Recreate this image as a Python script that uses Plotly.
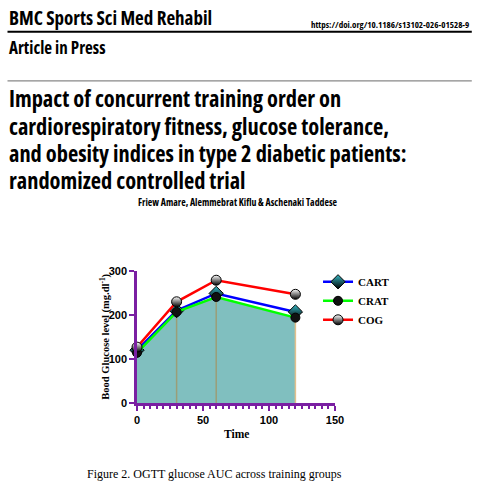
import plotly.graph_objects as go

# ---- data ----
time_min = [0, 30, 60, 120]
cart = [120, 210, 249, 207]
crat = [114, 207, 241, 194]
cog = [127, 230, 279, 247]
series_names = ["CART", "CRAT", "COG"]
x_ticks = [0, 50, 100, 150]
y_ticks = [0, 100, 200, 300]

# ---- geometry (pixels) ----
WIDTH, HEIGHT = 494, 500
L, R, T, B = 136.7, 335.0, 270.7, 402.7
PW, PH = R - L, B - T


def px(x):
    return (x - L) / PW


def py(y):
    return (B - y) / PH


PURPLE = "#7A1FA2"
COND = "Open Sans, Noto Sans, sans-serif"
SERIF = "Liberation Serif, Times New Roman, serif"

fig = go.Figure()

# area under CRAT curve
fig.add_trace(go.Scatter(x=time_min, y=crat, mode="lines", line=dict(width=0),
                         fill="tozeroy", fillcolor="#80BFBF", showlegend=False,
                         hoverinfo="skip"))
# drop lines
drop_x, drop_y = [], []
for t, v in zip(time_min[1:3], crat[1:3]):
    drop_x += [t, t, None]
    drop_y += [0, v, None]
fig.add_trace(go.Scatter(x=drop_x, y=drop_y, mode="lines",
                         line=dict(color="#9A9E78", width=1.5), showlegend=False,
                         hoverinfo="skip"))
fig.add_trace(go.Scatter(x=[time_min[-1], time_min[-1]], y=[0, crat[-1]], mode="lines",
                         line=dict(color="#E2C08E", width=1.5), showlegend=False,
                         hoverinfo="skip"))

fig.add_trace(go.Scatter(
    x=time_min, y=cart, name=series_names[0], mode="lines+markers",
    line=dict(color="#0000FF", width=2.5),
    marker=dict(symbol="diamond", size=11, color="#35B8C4",
                gradient=dict(type="vertical", color="#000000"),
                line=dict(color="#000000", width=1)),
    cliponaxis=False))
fig.add_trace(go.Scatter(
    x=time_min, y=crat, name=series_names[1], mode="lines+markers",
    line=dict(color="#00FF00", width=2.5),
    marker=dict(symbol="circle", size=9, color="#111111",
                line=dict(color="#000000", width=1)),
    cliponaxis=False))
fig.add_trace(go.Scatter(
    x=time_min, y=cog, name=series_names[2], mode="lines+markers",
    line=dict(color="#FF0000", width=2.5),
    marker=dict(symbol="circle", size=10, color="#FFFFFF",
                gradient=dict(type="vertical", color="#000000"),
                line=dict(color="#000000", width=1)),
    cliponaxis=False))

tickfont = dict(family="Liberation Sans, Arial, sans-serif", size=11, color="#000000", weight="bold")
fig.update_xaxes(range=[0, 150], tickvals=x_ticks, ticktext=[str(v) for v in x_ticks],
                 showline=True, linecolor=PURPLE, linewidth=2.5,
                 ticks="outside", ticklen=5, tickwidth=2, tickcolor=PURPLE,
                 minor=dict(dtick=5, ticks="outside", ticklen=3, tickwidth=1.5, tickcolor=PURPLE),
                 showgrid=False, zeroline=False, tickfont=tickfont)
fig.update_yaxes(range=[0, 300], tickvals=y_ticks, ticktext=[str(v) for v in y_ticks],
                 showline=True, linecolor=PURPLE, linewidth=2.5,
                 ticks="outside", ticklen=5, tickwidth=2, tickcolor=PURPLE,
                 showgrid=False, zeroline=False, tickfont=tickfont)

ann = []


def text(x, y, s, size, family, anchor="left", color="#000000", weight="normal", angle=0,
         stretch=None):
    if stretch:
        s = '<span style="font-stretch:%s">%s</span>' % (stretch, s)
    ann.append(dict(x=px(x), y=py(y), xref="paper", yref="paper", text=s, showarrow=False,
                    xanchor=anchor, yanchor="middle", textangle=angle,
                    font=dict(size=size, family=family, color=color, weight=weight)))


EC = "75%"
text(7, 18, "BMC Sports Sci Med Rehabil", 19, COND, weight="bold", stretch=EC)
text(471, 24, "https://doi.org/10.1186/s13102-026-01528-9", 9, COND, anchor="right",
     weight="bold", stretch=EC)
text(7, 47, "Article in Press", 17, COND, weight="bold", stretch=EC)
title_lines = ["Impact of concurrent training order on",
               "cardiorespiratory fitness, glucose tolerance,",
               "and obesity indices in type 2 diabetic patients:",
               "randomized controlled trial"]
for i, line in enumerate(title_lines):
    text(7, 98.5 + i * 27.3, line, 22.4, COND, weight="bold", stretch=EC)
text(238, 202, "Friew Amare, Alemmebrat Kiflu &amp; Aschenaki Taddese", 9.8, COND,
     anchor="center", weight="bold", stretch=EC)

text(105, 336, "Bood Glucose level (mg.dl<sup>-1</sup>)", 10.5, SERIF, anchor="center",
     weight="bold", angle=-90)
text(236, 434, "Time", 11.5, SERIF, anchor="center", weight="bold")
text(85, 474, "Figure 2. OGTT glucose AUC across training groups", 12, SERIF)

shapes = [
    dict(type="line", xref="paper", yref="paper", x0=px(7), x1=px(472), y0=py(31.5), y1=py(31.5),
         line=dict(color="#000000", width=2)),
    dict(type="line", xref="paper", yref="paper", x0=px(7), x1=px(472), y0=py(80.5), y1=py(80.5),
         line=dict(color="#888888", width=1.2)),
]

fig.update_layout(
    width=WIDTH, height=HEIGHT,
    margin=dict(l=L, r=WIDTH - R, t=T, b=HEIGHT - B, autoexpand=False),
    paper_bgcolor="#FFFFFF", plot_bgcolor="rgba(0,0,0,0)",
    showlegend=True,
    legend=dict(x=px(318), y=py(267), xanchor="left", yanchor="top",
                font=dict(family=SERIF, size=11, color="#000000", weight="bold"),
                itemwidth=30, tracegroupgap=0, bgcolor="rgba(0,0,0,0)"),
    annotations=ann, shapes=shapes,
)

fig.write_html("out.html")
